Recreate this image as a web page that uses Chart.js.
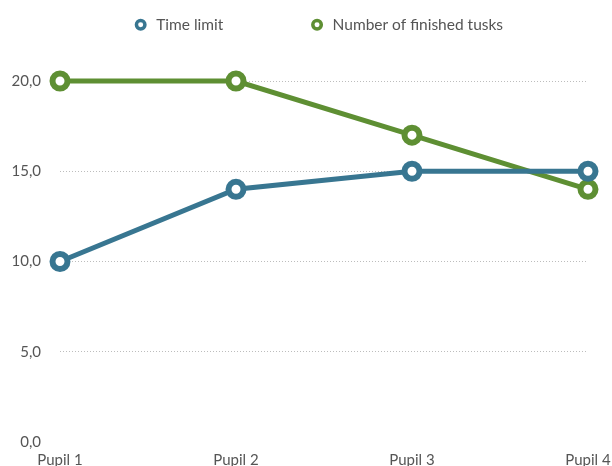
<!DOCTYPE html>
<html>
<head>
<meta charset="utf-8">
<script src="https://cdn.jsdelivr.net/npm/chart.js@4/dist/chart.umd.min.js"></script>
<style>
  html, body { margin: 0; padding: 0; overflow: hidden; background: #fff; }
  #wrap { width: 612px; height: 466px; }
</style>
</head>
<body>
<div id="wrap"><canvas id="chart"></canvas></div>
<script>
const pupils = ['Pupil 1', 'Pupil 2', 'Pupil 3', 'Pupil 4'];
const timeLimit = [10, 14, 15, 15];
const finishedTasks = [20, 20, 17, 14];
const yTicks = [0, 5, 10, 15, 20];

const blue = '#387691';
const green = '#5e8f33';
const legendGap = 86;

// legend: wide gaps between items but kept near the top
const legendTweak = {
  id: 'legendTweak',
  beforeInit(chart) {
    const fit = chart.legend.fit;
    chart.legend.fit = function() {
      fit.bind(chart.legend)();
      this.height = 81;
    };
    const draw = chart.legend.draw;
    chart.legend.draw = function() {
      const top = this.top, left = this.left, right = this.right;
      this.top = top - legendGap + 17;
      this.left = left + 24;
      this.right = right + 24;
      draw.bind(chart.legend)();
      this.top = top;
      this.left = left;
      this.right = right;
    };
  }
};

const baseLabels = Chart.defaults.plugins.legend.labels.generateLabels;

const ctx = document.getElementById('chart').getContext('2d');
new Chart(ctx, {
  type: 'line',
  data: {
    labels: pupils,
    datasets: [
      {
        label: 'Time limit',
        data: timeLimit,
        borderColor: blue,
        backgroundColor: blue,
        borderWidth: 5,
        pointRadius: 7.5,
        pointHoverRadius: 7.5,
        pointBorderWidth: 6,
        pointBackgroundColor: '#fff',
        pointBorderColor: blue,
        tension: 0,
        clip: false
      },
      {
        label: 'Number of finished tusks',
        data: finishedTasks,
        borderColor: green,
        backgroundColor: green,
        borderWidth: 5,
        pointRadius: 7.5,
        pointHoverRadius: 7.5,
        pointBorderWidth: 6,
        pointBackgroundColor: '#fff',
        pointBorderColor: green,
        tension: 0,
        clip: false
      }
    ]
  },
  options: {
    responsive: true,
    maintainAspectRatio: false,
    animation: false,
    layout: { padding: { top: 0, right: 24, left: 0, bottom: 0 } },
    plugins: {
      legend: {
        position: 'top',
        labels: {
          usePointStyle: true,
          pointStyle: 'circle',
          boxWidth: 16,
          boxHeight: 6,
          padding: legendGap,
          color: '#555',
          font: { family: 'Lato', size: 15.5 },
          generateLabels(chart) {
            return baseLabels(chart).map(l => Object.assign(l, { lineWidth: 3.5 }));
          }
        }
      },
      tooltip: { enabled: false }
    },
    scales: {
      x: {
        offset: false,
        afterFit(scale) {
          scale.height = 24;
          scale.paddingLeft = 0;
          scale.paddingRight = 0;
        },
        grid: { display: false, drawTicks: false },
        border: { display: false },
        ticks: {
          padding: 9,
          color: '#555',
          maxRotation: 0,
          font: { family: 'Lato', size: 15 }
        }
      },
      y: {
        min: 0,
        max: 20,
        afterFit(scale) {
          scale.width = 60;
          scale.paddingTop = 0;
          scale.paddingBottom = 0;
        },
        afterBuildTicks(scale) { scale.ticks = yTicks.map(v => ({ value: v })); },
        border: { display: false, dash: [1, 2] },
        grid: {
          drawTicks: false,
          color: c => c.tick && c.tick.value === 0 ? 'rgba(0,0,0,0)' : '#bdbdbd',
          lineWidth: 1
        },
        ticks: {
          padding: 19,
          color: '#555',
          font: { family: 'Lato', size: 15 },
          callback: v => v.toFixed(1).replace('.', ',')
        }
      }
    }
  },
  plugins: [legendTweak]
});
</script>
</body>
</html>
